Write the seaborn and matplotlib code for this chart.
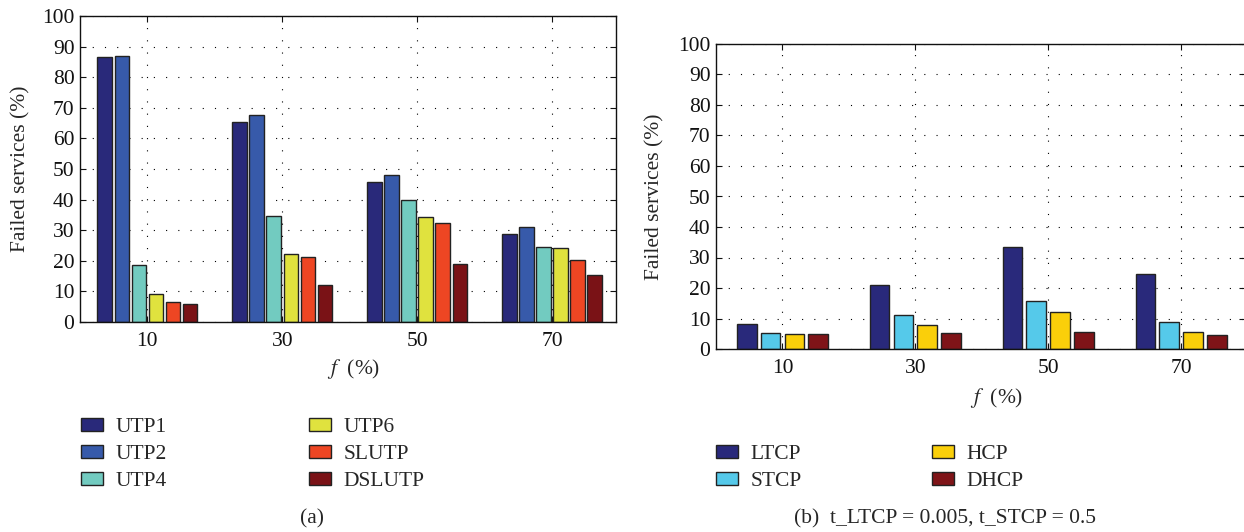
import matplotlib
matplotlib.use("Agg")
import pandas as pd
import matplotlib.pyplot as plt
import seaborn as sns

# x categories: fraction f (%)
f_levels = ["10", "30", "50", "70"]

# (a) failed services (%) per policy
utp_names = ["UTP1", "UTP2", "UTP4", "UTP6", "SLUTP", "DSLUTP"]
utp1 = [86.7, 65.3, 45.8, 28.6]
utp2 = [87.0, 67.5, 48.2, 31.0]
utp4 = [18.6, 34.5, 39.9, 24.5]
utp6 = [9.3, 22.1, 34.2, 24.2]
slutp = [6.5, 21.2, 32.5, 20.3]
dslutp = [6.0, 12.0, 19.1, 15.4]
utp_colors = ["#29297a", "#375aaa", "#72cbc0", "#e0e23e", "#ee4623", "#7a1216"]

# (b) failed services (%) per policy
tcp_names = ["LTCP", "STCP", "HCP", "DHCP"]
ltcp = [8.3, 21.1, 33.5, 24.5]
stcp = [5.4, 11.2, 15.6, 8.9]
hcp = [5.0, 7.8, 12.0, 5.7]
dhcp = [5.0, 5.3, 5.5, 4.5]
tcp_colors = ["#29297b", "#55c9ea", "#facf0a", "#7f1418"]


def long_table(names, series):
    rows = []
    for name, vals in zip(names, series):
        for f, v in zip(f_levels, vals):
            rows.append({"f": f, "policy": name, "failed": v})
    return pd.DataFrame(rows)


df_a = long_table(utp_names, [utp1, utp2, utp4, utp6, slutp, dslutp])
df_b = long_table(tcp_names, [ltcp, stcp, hcp, dhcp])

sns.set_theme(style="ticks")
plt.rcParams["font.family"] = ["Liberation Serif", "DejaVu Serif"]
plt.rcParams["mathtext.fontset"] = "stix"

FS = 15.5
W, H = 1244, 532
fig = plt.figure(figsize=(W / 100, H / 100), dpi=100)

# axes placed in pixel terms of the reference
ax_a = fig.add_axes([80 / W, 1 - 322 / H, 536 / W, 306 / H])
ax_b = fig.add_axes([716 / W, 1 - 349 / H, 528.5 / W, 305 / H])


def draw(ax, df, names, colors, width, gap):
    sns.barplot(data=df, x="f", y="failed", hue="policy", order=f_levels,
                hue_order=names, palette=colors, saturation=1, width=width, gap=gap,
                edgecolor="#222222", linewidth=1.0, errorbar=None, ax=ax)
    ax.set_ylim(0, 100)
    ax.set_yticks(range(0, 101, 10))
    ax.set_xlim(-0.5, 3.475)
    ax.grid(True, color="black", linestyle=(0, (1, 10)), linewidth=0.8)
    ax.set_axisbelow(True)
    for s in ax.spines.values():
        s.set_color("#111111")
        s.set_linewidth(1.0)
    ax.tick_params(direction="in", top=True, right=True, length=4, width=0.8,
                   labelsize=FS, colors="#111111")
    ax.tick_params(axis="y", pad=4)
    ax.tick_params(axis="x", pad=7)
    ax.set_xlabel("$f$  (%)", fontsize=FS)
    ax.set_ylabel("Failed services (%)", fontsize=FS)
    handles, labels = ax.get_legend_handles_labels()
    ax.legend_.remove()
    return handles, labels


h_a, l_a = draw(ax_a, df_a, utp_names, utp_colors, 0.76, 0.15)
h_b, l_b = draw(ax_b, df_b, tcp_names, tcp_colors, 0.72, 0.17)

ax_a.yaxis.set_label_coords(-0.093, 0.5)
ax_a.xaxis.set_label_coords(0.51, -0.115)
ax_b.yaxis.set_label_coords(-0.098, 0.5)
ax_b.xaxis.set_label_coords(0.53, -0.12)


def column_legend(handles, labels, x, y):
    fig.legend(handles, labels, loc="center left", bbox_to_anchor=(x / W, 1 - y / H),
               frameon=False, fontsize=FS, handlelength=1.0, handleheight=0.55,
               handletextpad=0.6, labelspacing=0.35, borderpad=0, borderaxespad=0)


column_legend(h_a[:3], l_a[:3], 81, 454.5)
column_legend(h_a[3:], l_a[3:], 309, 454.5)
column_legend(h_b[:2], l_b[:2], 716, 468)
column_legend(h_b[2:], l_b[2:], 932, 468)

fig.text(312 / W, 1 - 519 / H, "(a)", ha="center", va="center", fontsize=FS)
fig.text(945 / W, 1 - 519 / H, "(b)  t_LTCP = 0.005, t_STCP = 0.5",
         ha="center", va="center", fontsize=FS)

fig.savefig("out.png", dpi=100)
